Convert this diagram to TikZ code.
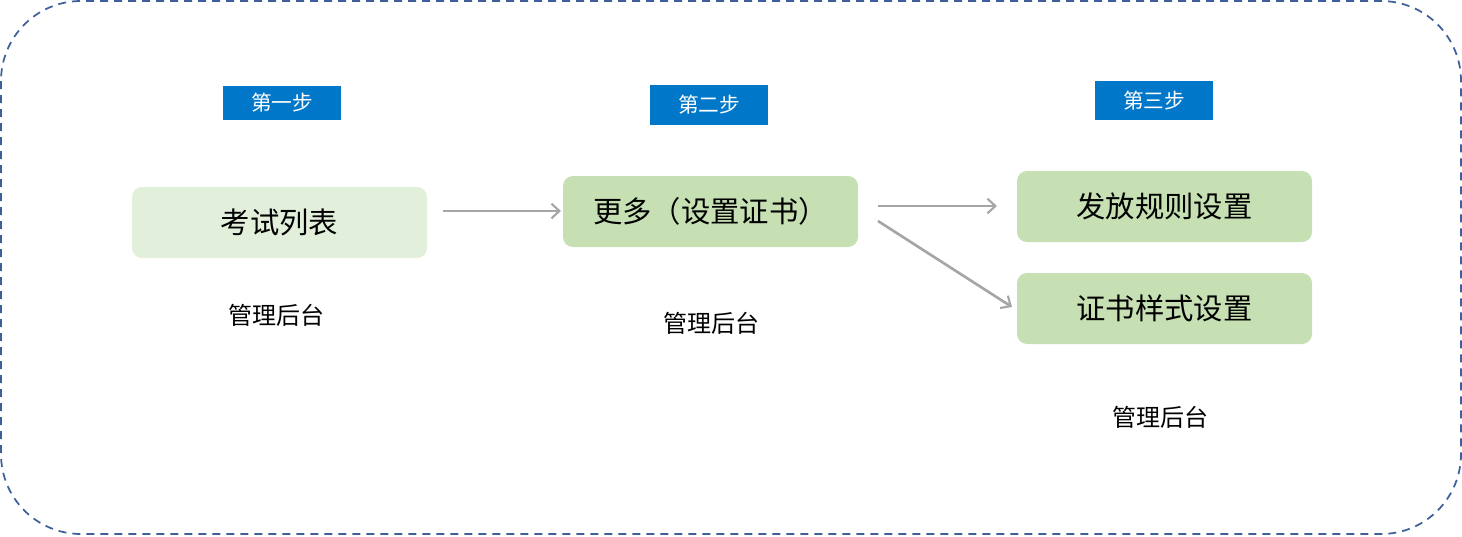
\documentclass[tikz,border=0pt]{standalone}
\usepackage{fontspec}
\newfontfamily\cjk{Noto Sans CJK SC}
\usetikzlibrary{arrows.meta}
\definecolor{frameblue}{HTML}{3F5F9A}
\definecolor{stepblue}{HTML}{0077C8}
\definecolor{lightgreen}{HTML}{E2EFDA}
\definecolor{midgreen}{HTML}{C6E0B4}
\definecolor{arrowgray}{HTML}{A6A6A6}
\tikzset{
  px/.style={x=0.75pt,y=-0.75pt},
  steplabel/.style={fill=stepblue,text=white,font=\cjk\fontsize{15.5}{18}\selectfont,inner sep=0pt,anchor=center},
  procbox/.style={rounded corners=7.5pt,inner sep=0pt,font=\cjk\fontsize{22}{26}\selectfont,anchor=center},
  sublabel/.style={font=\cjk\fontsize{18}{21}\selectfont,anchor=center,inner sep=0pt},
  flow/.style={draw=arrowgray,line width=2pt,-{Straight Barb[length=6pt,width=11pt,line width=1.6pt]}}
}
\begin{document}
\begin{tikzpicture}[px]
\useasboundingbox (0,0) rectangle (1462,536);
\draw[frameblue,line width=1.3pt,dash pattern=on 6pt off 4.5pt,rounded corners=60pt] (1,1) rectangle (1461,534);

\node[steplabel,minimum width=88.5pt,minimum height=25.5pt] (s1) at (282,103) {第一步};
\node[steplabel,minimum width=88.5pt,minimum height=30pt] (s2) at (709,105) {第二步};
\node[steplabel,minimum width=88.5pt,minimum height=29.25pt] (s3) at (1154,100.5) {第三步};

\node[procbox,fill=lightgreen,minimum width=221.25pt,minimum height=53.25pt] (a) at (279.5,222.5) {考试列表};
\node[procbox,fill=midgreen,minimum width=221.25pt,minimum height=53.25pt] (b) at (710.5,211.5) {更多（设置证书）};
\node[procbox,fill=midgreen,minimum width=221.25pt,minimum height=53.25pt] (c) at (1164.5,206.5) {发放规则设置};
\node[procbox,fill=midgreen,minimum width=221.25pt,minimum height=53.25pt] (d) at (1164.5,308.5) {证书样式设置};

\node[sublabel] (l1) at (276,315) {管理后台};
\node[sublabel] (l2) at (711,323) {管理后台};
\node[sublabel] (l3) at (1160,417) {管理后台};

\coordinate (a1) at (443,211);
\coordinate (a2) at (561,211);
\coordinate (b1) at (878,206);
\coordinate (b2) at (997,206);
\coordinate (c1) at (878,221);
\coordinate (c2) at (1012,307);
\draw[flow] (a1) -- (a2);
\draw[flow] (b1) -- (b2);
\draw[flow] (c1) -- (c2);
\end{tikzpicture}
\end{document}
